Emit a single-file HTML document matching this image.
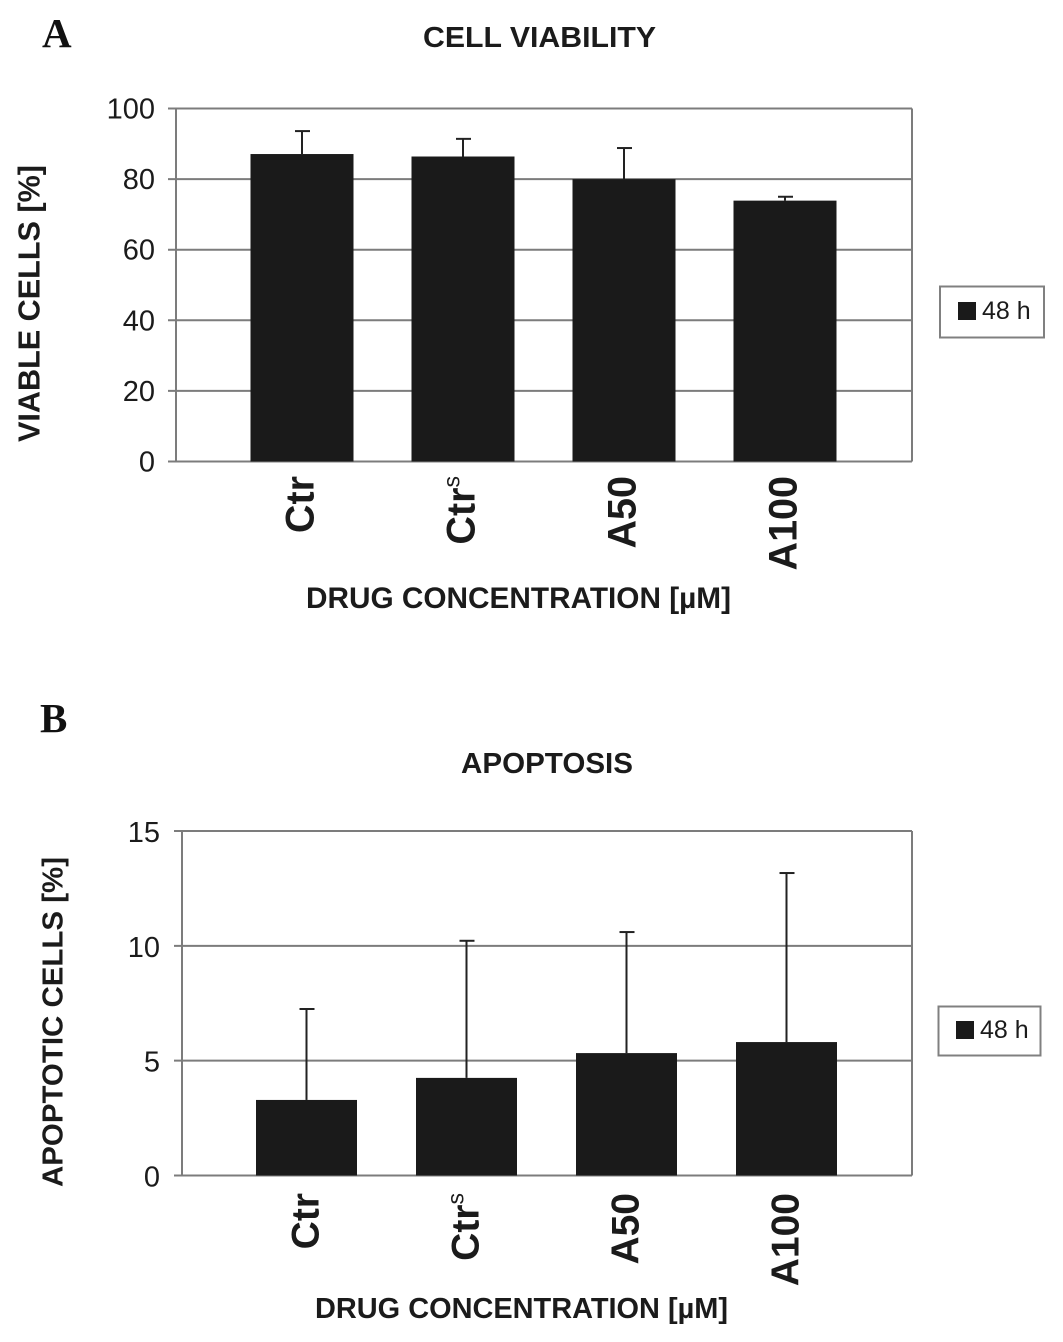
<!DOCTYPE html>
<html lang="en">
<head>
<meta charset="utf-8">
<title>Cell viability and apoptosis</title>
<style>
html,body{margin:0;padding:0;background:#fff;}
svg{display:block;}
text{font-family:"Liberation Sans",Arial,sans-serif;fill:#1b1b1b;}
.bold{font-weight:bold;}
.panel{font-family:"Liberation Serif",serif;font-weight:bold;fill:#111;font-size:41px;}
</style>
</head>
<body>
<svg id="figure" xmlns="http://www.w3.org/2000/svg" width="1063" height="1342" viewBox="0 0 1063 1342">
  <rect x="0" y="0" width="1063" height="1342" fill="#fff"/>

  <text class="panel" x="42" y="47">A</text>
  <text class="bold" x="423" y="47" font-size="29" textLength="233" lengthAdjust="spacingAndGlyphs">CELL VIABILITY</text>
  <text class="bold" transform="translate(39.5,442) rotate(-90)" font-size="31" textLength="277" lengthAdjust="spacingAndGlyphs">VIABLE CELLS [%]</text>
  <text class="bold" x="306" y="608" font-size="30" textLength="425" lengthAdjust="spacingAndGlyphs">DRUG CONCENTRATION [µM]</text>
  <g>
    <rect x="940" y="286.5" width="104" height="51" fill="#fff" stroke="#808080" stroke-width="2"/>
    <rect x="958" y="302" width="18" height="18" fill="#1a1a1a"/>
    <text x="982" y="319" font-size="25">48 h</text>
  </g>

  <text class="panel" x="40" y="732">B</text>
  <text class="bold" x="461" y="773" font-size="29" textLength="172" lengthAdjust="spacingAndGlyphs">APOPTOSIS</text>
  <text class="bold" transform="translate(62.5,1187) rotate(-90)" font-size="29" textLength="330" lengthAdjust="spacingAndGlyphs">APOPTOTIC CELLS [%]</text>
  <text class="bold" x="315" y="1318" font-size="29" textLength="413" lengthAdjust="spacingAndGlyphs">DRUG CONCENTRATION [µM]</text>
  <g>
    <rect x="938.5" y="1006.5" width="102" height="49" fill="#fff" stroke="#808080" stroke-width="2"/>
    <rect x="956" y="1021" width="18" height="18" fill="#1a1a1a"/>
    <text x="980" y="1038" font-size="25">48 h</text>
  </g>

  <g id="chart-a"></g>
  <g id="chart-b"></g>
</svg>
<script>
const categories = ['Ctr', 'Ctr', 'A50', 'A100'];
const categorySuperscripts = ['', 's', '', ''];

const viabilityTicks = [0, 20, 40, 60, 80, 100];
const viabilityValues = [87.1, 86.4, 80, 73.9];
const viabilityErrors = [6.5, 5.0, 8.8, 1.1];

const apoptosisTicks = [0, 5, 10, 15];
const apoptosisValues = [3.29, 4.25, 5.33, 5.81];
const apoptosisErrors = [3.96, 5.97, 5.27, 7.36];

const SVG_NS = 'http://www.w3.org/2000/svg';

function make(tag, attrs, parent) {
  const el = document.createElementNS(SVG_NS, tag);
  Object.keys(attrs).forEach(function (k) { el.setAttribute(k, attrs[k]); });
  parent.appendChild(el);
  return el;
}

function drawChart(root, layout, ticks, values, errors, key) {
  const yMax = ticks[ticks.length - 1];
  const yScale = function (v) { return layout.bottom - (v / yMax) * (layout.bottom - layout.top); };
  const xScale = function (i) { return layout.firstCenter + i * layout.step; };
  const axisColor = '#7c7c7c';

  ticks.forEach(function (t) {
    const y = yScale(t);
    const grid = make('line', { x1: layout.left - 8, x2: layout.right, y1: y, y2: y, stroke: axisColor, 'stroke-width': 2 }, root);
    
    
    const label = make('text', { x: layout.tickRight, y: y + layout.tickDrop, 'text-anchor': 'end', 'font-size': 29, fill: '#222' }, root);
    
    
    label.textContent = String(t);
  });

  const leftAxis = make('line', { x1: layout.left, x2: layout.left, y1: layout.top, y2: layout.bottom, stroke: axisColor, 'stroke-width': 2 }, root);
  
  
  const rightEdge = make('line', { x1: layout.right, x2: layout.right, y1: layout.top, y2: layout.bottom, stroke: axisColor, 'stroke-width': 2 }, root);
  
  

  values.forEach(function (v, i) {
    const cx = xScale(i);
    const yTop = yScale(v);
    const yErr = yScale(v + errors[i]);

    const stem = make('line', { x1: cx, x2: cx, y1: yTop, y2: yErr, stroke: '#222', 'stroke-width': 2 }, root);
    
    
    const cap = make('line', { x1: cx - 7, x2: cx + 8, y1: yErr, y2: yErr, stroke: '#222', 'stroke-width': 2 }, root);
    
    

    const bar = make('rect', { x: cx - layout.barWidth / 2, y: yTop, width: layout.barWidth, height: layout.bottom - yTop, fill: '#1a1a1a' }, root);
    
    

    const label = make('text', {
      transform: 'translate(' + (cx + layout.labelOffset) + ',' + layout.labelEnd + ') rotate(-90)',
      'text-anchor': 'end', 'font-size': layout.labelSize, 'font-weight': 'bold', fill: '#1a1a1a'
    }, root);
    
    
    const main = make('tspan', {}, label);
    main.textContent = categories[i];
    if (categorySuperscripts[i]) {
      const sup = make('tspan', { dy: -15, 'font-size': 23, 'font-weight': 'normal' }, label);
      sup.textContent = categorySuperscripts[i];
    }
  });
}

drawChart(document.getElementById('chart-a'), {
  left: 176, right: 912, top: 108.5, bottom: 461.5,
  firstCenter: 302, step: 161, barWidth: 103,
  tickRight: 155, tickDrop: 10, labelOffset: 11.5, labelEnd: 476, labelSize: 39.5
}, viabilityTicks, viabilityValues, viabilityErrors, 'viability');

drawChart(document.getElementById('chart-b'), {
  left: 182, right: 912, top: 831, bottom: 1175.5,
  firstCenter: 306.5, step: 160, barWidth: 101,
  tickRight: 160, tickDrop: 11, labelOffset: 12, labelEnd: 1193, labelSize: 39
}, apoptosisTicks, apoptosisValues, apoptosisErrors, 'apoptosis');
</script>
</body>
</html>
